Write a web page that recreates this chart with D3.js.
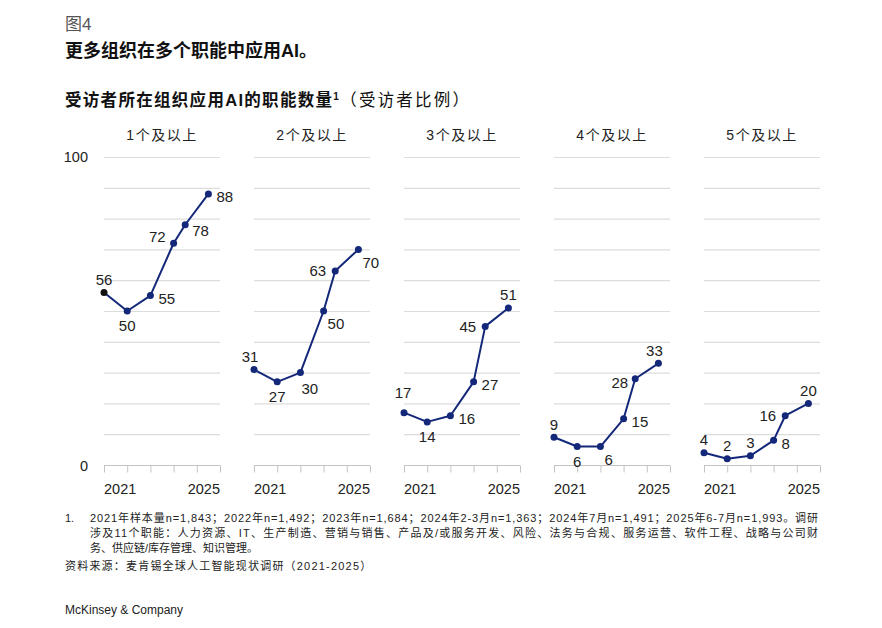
<!DOCTYPE html>
<html>
<head>
<meta charset="utf-8">
<script src="https://cdn.jsdelivr.net/npm/d3@7"></script>
<style>
  body { margin: 0; background: #fff; }
  text { font-family: "Liberation Sans", Arial, "Noto Sans CJK SC", sans-serif; }
</style>
</head>
<body>
<svg></svg>
<script>
const size = {w: 882, h: 628};
const svg = d3.select('svg')
    .attr('width', size.w)
    .attr('height', size.h);

// survey waves: 2021, 2022, 2023, 2024 (Feb-Mar), 2024 (Jul), 2025 (Jun-Jul)
const waves = [2021, 2022, 2023, 2024, 2024.5, 2025.5];
const panels = ['1个及以上', '2个及以上', '3个及以上', '4个及以上', '5个及以上'];
const oneOrMore   = [56, 50, 55, 72, 78, 88];
const twoOrMore   = [31, 27, 30, 50, 63, 70];
const threeOrMore = [17, 14, 16, 27, 45, 51];
const fourOrMore  = [9, 6, 6, 15, 28, 33];
const fiveOrMore  = [4, 2, 3, 8, 16, 20];
const series = [oneOrMore, twoOrMore, threeOrMore, fourOrMore, fiveOrMore];
const yearLabels = ['2021', '2025'];
const yTicks = ['0', '100'];

// where each value label sits relative to its dot
const labelPlace = [
    ['n', 's', 'e', 'wu', 'ed', 'e'],
    ['nw', 's', 'ses', 'se', 'w', 'se'],
    ['nn', 's', 'e', 'e', 'w', 'n'],
    ['n', 's', 'se', 'e', 'wd', 'nw'],
    ['n', 'n', 'n', 'e', 'w', 'n']
];
const placeOffsets = {
    n:   {dx: 0,  dy: -13, anchor: 'middle'},
    nn:  {dx: -1, dy: -20, anchor: 'middle'},
    nw:  {dx: -4, dy: -13, anchor: 'middle'},
    s:   {dx: 0,  dy: 15,  anchor: 'middle'},
    e:   {dx: 8,  dy: 3,   anchor: 'start'},
    ed:  {dx: 7,  dy: 6,   anchor: 'start'},
    se:  {dx: 4,  dy: 13,  anchor: 'start'},
    ses: {dx: 1,  dy: 16,  anchor: 'start'},
    w:   {dx: -9, dy: 0,   anchor: 'end'},
    wu:  {dx: -8, dy: -6,  anchor: 'end'},
    wd:  {dx: -7, dy: 4,   anchor: 'end'}
};

const navy = '#14287a';
const grid = {top: 157, bottom: 465, left: 104, w: 116, step: 150};

const y = d3.scaleLinear().domain([0, 100]).range([grid.bottom, grid.top]);

// titles
svg.append('text').attr('x', 65).attr('y', 30)
    .attr('font-size', 17).attr('fill', '#555')
    .text('图4');
svg.append('text').attr('x', 65).attr('y', 57)
    .attr('font-size', 18).attr('font-weight', 'bold').attr('fill', '#111')
    .text('更多组织在多个职能中应用AI。');
const sub = svg.append('text').attr('x', 65).attr('y', 106)
    .attr('font-size', 16.5).attr('fill', '#111').attr('letter-spacing', 1.3);
sub.append('tspan').attr('font-weight', 'bold').text('受访者所在组织应用AI的职能数量');
sub.append('tspan').attr('font-weight', 'bold').attr('font-size', 10).attr('dy', -6).text('1');
sub.append('tspan').attr('dy', 6).attr('letter-spacing', 2.2).text('（受访者比例）');

// y labels, only on the left
svg.append('text').attr('x', 88).attr('y', y(100) + 5)
    .attr('text-anchor', 'end').attr('font-size', 14.5).attr('fill', '#222')
    .text(yTicks[1]);
svg.append('text').attr('x', 88).attr('y', y(0) + 6)
    .attr('text-anchor', 'end').attr('font-size', 14.5).attr('fill', '#222')
    .text(yTicks[0]);

panels.forEach(function (name, i) {
    const x0 = grid.left + i * grid.step;
    const x = d3.scaleLinear().domain([2021, 2026]).range([x0, x0 + grid.w]);
    const g = svg.append('g').classed('panel', true);

    g.append('text')
        .attr('x', x0 + grid.w / 2).attr('y', 140)
        .attr('text-anchor', 'middle').attr('font-size', 14)
        .attr('letter-spacing', 1.5).attr('fill', '#222')
        .text(name);

    // gridlines every 10
    g.selectAll('line.grid')
        .data(d3.range(10, 101, 10))
        .enter().append('line')
        .attr('class', 'grid')
        .attr('x1', x0).attr('x2', x0 + grid.w)
        .attr('y1', d => y(d) + 0.5).attr('y2', d => y(d) + 0.5)
        .attr('stroke', '#dcdcdc').attr('stroke-width', 1.2);

    // baseline with year ticks
    const axis = d3.axisBottom(x)
        .tickValues(d3.range(2021, 2027))
        .tickSize(7)
        .tickFormat('');
    const ag = g.append('g')
        .attr('transform', 'translate(0,' + (grid.bottom + 0.5) + ')')
        .call(axis);
    ag.select('.domain').attr('stroke', '#c4c4c4').attr('d', 'M' + x0 + ',0H' + (x0 + grid.w));
    ag.selectAll('.tick line').attr('stroke', '#c4c4c4').attr('y1', 0);

    g.append('text').attr('x', x(2021)).attr('y', 494)
        .attr('font-size', 14.5).attr('fill', '#222')
        .text(yearLabels[0]);
    g.append('text').attr('x', x(2026)).attr('y', 494)
        .attr('text-anchor', 'end').attr('font-size', 14.5).attr('fill', '#222')
        .text(yearLabels[1]);

    const vals = series[i];
    const pts = vals.map((v, j) => ({x: x(waves[j]), y: y(v), v: v, p: labelPlace[i][j]}));

    g.append('path')
        .datum(pts)
        .attr('fill', 'none')
        .attr('stroke', navy).attr('stroke-width', 2)
        .attr('stroke-linejoin', 'round')
        .attr('d', d3.line().x(d => d.x).y(d => d.y));

    g.selectAll('circle')
        .data(pts)
        .enter().append('circle')
        .attr('cx', d => d.x).attr('cy', d => d.y)
        .attr('r', 3.5)
        .attr('fill', (d, j) => (i === 0 && j === 0) ? '#111' : navy);

    g.selectAll('text.val')
        .data(pts)
        .enter().append('text')
        .attr('class', 'val')
        .attr('x', d => d.x + placeOffsets[d.p].dx)
        .attr('y', d => d.y + placeOffsets[d.p].dy)
        .attr('dy', '0.35em')
        .attr('text-anchor', d => placeOffsets[d.p].anchor)
        .attr('font-size', 15).attr('fill', '#222')
        .text(d => d.v);
});

// footnotes
const notes = [
    '2021年样本量n=1,843；2022年n=1,492；2023年n=1,684；2024年2-3月n=1,363；2024年7月n=1,491；2025年6-7月n=1,993。调研',
    '涉及11个职能：人力资源、IT、生产制造、营销与销售、产品及/或服务开发、风险、法务与合规、服务运营、软件工程、战略与公司财',
    '务、供应链/库存管理、知识管理。'
];
svg.append('text').attr('x', 65).attr('y', 522)
    .attr('font-size', 11).attr('fill', '#222').text('1.');
notes.forEach(function (t, k) {
    const tx = svg.append('text')
        .attr('x', 90).attr('y', 522 + k * 15)
        .attr('font-size', 11).attr('fill', '#222')
        .text(t);
    if (k < 2) tx.attr('textLength', 728).attr('lengthAdjust', 'spacing');
});
svg.append('text').attr('x', 65).attr('y', 570)
    .attr('font-size', 11).attr('fill', '#222').attr('letter-spacing', 1.2)
    .text('资料来源：麦肯锡全球人工智能现状调研（2021-2025）');
svg.append('text').attr('x', 65).attr('y', 614)
    .attr('font-size', 12).attr('fill', '#222')
    .text('McKinsey & Company');
</script>
</body>
</html>
